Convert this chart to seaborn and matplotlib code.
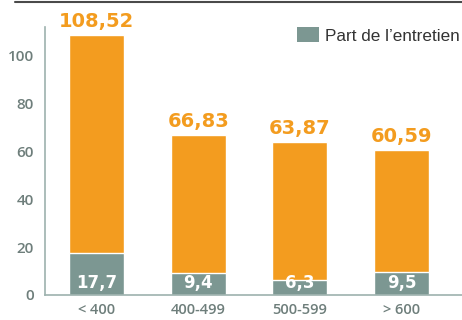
import matplotlib
matplotlib.use("Agg")
import matplotlib.pyplot as plt
import seaborn as sns
import pandas as pd
from matplotlib.lines import Line2D
from matplotlib.patches import Patch

categories = ["< 400", "400-499", "500-599", "> 600"]
total_values = [108.52, 66.83, 63.87, 60.59]
entretien_values = [17.7, 9.4, 6.3, 9.5]
total_labels = ["108,52", "66,83", "63,87", "60,59"]
entretien_labels = ["17,7", "9,4", "6,3", "9,5"]
y_ticks = [0, 20, 40, 60, 80, 100]

ORANGE = "#F39C1F"
TEAL = "#7C9792"
TICK = "#6E7E7B"
AXIS = "#9DB2AE"

df = pd.DataFrame({"cat": categories, "total": total_values, "entretien": entretien_values})

sns.set_theme(style="white")
plt.rcParams["font.family"] = ["Open Sans", "DejaVu Sans"]

fig = plt.figure(figsize=(4.62, 3.2), dpi=100)
ax = fig.add_axes([45 / 462, 1 - 295 / 320, 417 / 462, 268 / 320])

sns.barplot(data=df, x="cat", y="total", color=ORANGE, width=0.54,
            saturation=1, ax=ax, order=categories)
sns.barplot(data=df, x="cat", y="entretien", color=TEAL, width=0.54,
            saturation=1, ax=ax, order=categories)

ax.set_xlim(-0.506, 3.595)
ax.set_ylim(0, 112)
ax.set_yticks(y_ticks)
ax.set_xlabel("")
ax.set_ylabel("")

for s in ["top", "right"]:
    ax.spines[s].set_visible(False)
for s in ["left", "bottom"]:
    ax.spines[s].set_color(AXIS)
    ax.spines[s].set_linewidth(1.2)

ax.tick_params(axis="y", length=0, pad=8, labelsize=11, labelcolor=TICK)
ax.tick_params(axis="x", length=0, pad=6, labelsize=10.5, labelcolor=TICK)
for lab in ax.get_yticklabels() + ax.get_xticklabels():
    lab.set_fontweight("semibold")

value_font = ["DejaVu Sans"]
for i, (tv, tl, el) in enumerate(zip(total_values, total_labels, entretien_labels)):
    ax.annotate(tl, (i, tv), xytext=(0, 3), textcoords="offset points",
                ha="center", va="bottom", color=ORANGE, fontsize=14,
                fontweight="bold", family=value_font, clip_on=False)
    ax.annotate(el, (i, 0), xytext=(0, 2.5), textcoords="offset points",
                ha="center", va="bottom", color="white", fontsize=12,
                fontweight="bold", family=value_font)

handle = Patch(facecolor=TEAL, edgecolor="none")
leg = ax.legend([handle], ["Part de l\u2019entretien"], loc="upper right",
                bbox_to_anchor=(1.02, 1.037), frameon=False,
                handlelength=1.3, handleheight=0.95, handletextpad=0.35,
                borderaxespad=0.2,
                prop={"family": ["Liberation Sans"], "size": 12.3})
for t in leg.get_texts():
    t.set_color("#333333")

fig.add_artist(Line2D([15 / 462, 1], [1 - 1.5 / 320, 1 - 1.5 / 320],
                      color="#4a4a4a", linewidth=1.5))

fig.savefig("out.png", dpi=100)
